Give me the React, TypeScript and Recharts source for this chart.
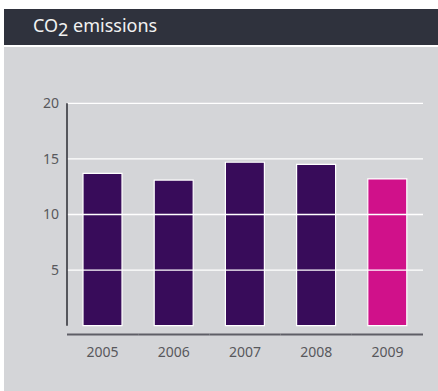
import React from "react";
import { BarChart, Bar, XAxis, YAxis, ReferenceLine, Cell } from "recharts";

// CO2 emissions per year
const years = ["2005", "2006", "2007", "2008", "2009"];
const emissions = [13.7, 13.1, 14.7, 14.5, 13.2];
const barColors = ["#380c5a", "#380c5a", "#380c5a", "#380c5a", "#d0118a"];
const yTicks = [5, 10, 15, 20];

const data = years.map((year, i) => ({ year, value: emissions[i] }));

const W = 438;
const H = 391;
const PLOT_LEFT = 67;
const PLOT_RIGHT = 423;
const PLOT_TOP = 103.3;
const PLOT_BOTTOM = 325.7;
const BAND = (PLOT_RIGHT - PLOT_LEFT) / years.length;
const FONT = "'Noto Sans', sans-serif";

// Category tick that also draws its band's share of the detached baseline
const YearTick = (props: any) => {
  const { x, y, payload } = props;
  return (
    <g>
      <line
        x1={x - BAND / 2}
        x2={x + BAND / 2}
        y1={y + 8.8}
        y2={y + 8.8}
        stroke="#5e5e66"
        strokeWidth={2}
      />
      <text
        x={x}
        y={y + 31}
        textAnchor="middle"
        fontSize={14}
        fontFamily={FONT}
        fill="#58585c"
      >
        {payload.value}
      </text>
    </g>
  );
};

export default function App() {
  return (
    <div
      style={{
        position: "absolute",
        left: 0,
        top: 0,
        width: W,
        height: H,
        background: "#ffffff",
        overflow: "hidden",
      }}
    >
      <div
        style={{
          position: "absolute",
          left: 4,
          top: 9,
          width: W - 4,
          height: 36,
          background: "#2f323d",
        }}
      >
        <span
          style={{
            position: "absolute",
            left: 29,
            top: 4,
            color: "#f2f2f2",
            fontFamily: FONT,
            fontSize: 18,
            whiteSpace: "nowrap",
          }}
        >
          CO
          <span style={{ position: "relative", top: "0.22em" }}>2</span>
          {" emissions"}
        </span>
      </div>
      <div
        style={{
          position: "absolute",
          left: 4,
          top: 47,
          width: W - 4,
          height: H - 47,
          background: "#d4d5d8",
        }}
      />
      <div style={{ position: "absolute", left: 0, top: 0 }}>
        <BarChart
          width={W}
          height={H}
          data={data}
          margin={{
            top: PLOT_TOP,
            right: W - PLOT_RIGHT,
            left: 7,
            bottom: H - PLOT_BOTTOM - 40,
          }}
        >
          <XAxis
            dataKey="year"
            axisLine={false}
            tickLine={false}
            tickSize={0}
            tickMargin={0}
            height={40}
            interval={0}
            tick={<YearTick />}
          />
          <YAxis
            width={60}
            domain={[0, 20]}
            ticks={yTicks}
            interval={0}
            axisLine={{ stroke: "#2b2b33", strokeWidth: 1.5 }}
            tickLine={false}
            tickSize={0}
            tickMargin={8}
            tick={{ fontSize: 14, fontFamily: FONT, fill: "#58585c" }}
          />
          <Bar
            dataKey="value"
            barSize={39}
            stroke="#ffffff"
            strokeWidth={1.2}
            isAnimationActive={false}
          >
            {data.map((d, i) => (
              <Cell key={d.year} fill={barColors[i]} />
            ))}
          </Bar>
          {yTicks.map((t) => (
            <ReferenceLine key={t} y={t} stroke="#ffffff" strokeWidth={1.3} />
          ))}
        </BarChart>
      </div>
    </div>
  );
}
